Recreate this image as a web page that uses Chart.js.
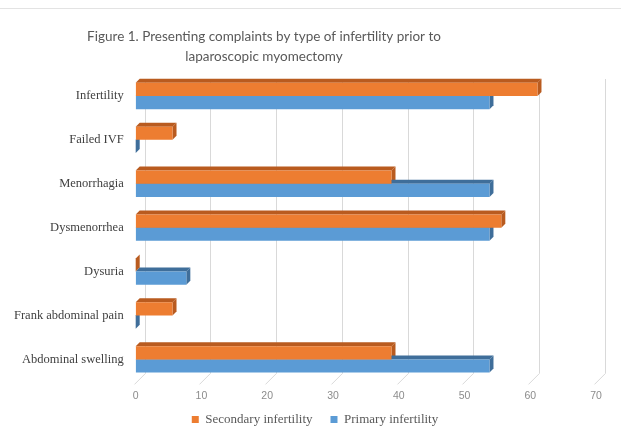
<!DOCTYPE html>
<html>
<head>
<meta charset="utf-8">
<script src="https://cdn.jsdelivr.net/npm/chart.js@4/dist/chart.umd.min.js"></script>
<style>
  body { margin: 0; background: #fff; }
  #wrap { position: relative; width: 621px; height: 427px; }
  #topline { position: absolute; left: 0; top: 8px; width: 621px; height: 1px; background: #e3e3e3; }
</style>
</head>
<body>
<div id="wrap">
  <div id="topline"></div>
  <canvas id="chart" width="621" height="427"></canvas>
</div>
<script>
// Categories from top to bottom
const categories = ['Infertility', 'Failed IVF', 'Menorrhagia', 'Dysmenorrhea', 'Dysuria', 'Frank abdominal pain', 'Abdominal swelling'];
// Percentages per type of infertility
const secondaryValues = [61.1, 5.6, 38.9, 55.6, 0, 5.6, 38.9];
const primaryValues = [53.8, 0, 53.8, 53.8, 7.7, 0, 53.8];
const xTicks = [0, 10, 20, 30, 40, 50, 60, 70];
const titleLines = ['Figure 1. Presenting complaints by type of infertility prior to', 'laparoscopic myomectomy'];

const DEPTH_X = 4, DEPTH_Y = 4, GRID_SHIFT = 9;

// Title sits left of centre in the original, so draw it by hand
const titlePlugin = {
    id: 'titlePlugin',
    afterDraw(chart) {
        const ctx = chart.ctx;
        ctx.save();
        ctx.font = '13.5px Lato';
        ctx.fillStyle = '#595959';
        ctx.textAlign = 'center';
        ctx.textBaseline = 'middle';
        titleLines.forEach((t, i) => ctx.fillText(t, 264, 37 + i * 20));
        ctx.restore();
    }
};

// legend needs wide gaps between items but little height, so nudge it after layout
const legendNudge = {
    id: 'legendNudge',
    afterLayout(chart) {
        const lg = chart.legend;
        if (lg) {
            lg.top -= 7;
            lg.bottom = chart.height;
            lg.left += 12;
            lg.right += 12;
        }
    }
};

// Fake the Excel 3D look: back-plane gridlines plus top/side faces of each bar
const bar3d = {
    id: 'bar3d',
    beforeDatasetsDraw(chart) {
        const ctx = chart.ctx;
        const area = chart.chartArea;
        const xs = chart.scales.x;
        ctx.save();
        ctx.strokeStyle = '#d9d9d9';
        ctx.lineWidth = 1;
        xTicks.forEach(v => {
            const px = Math.round(xs.getPixelForValue(v)) + 0.5;
            ctx.beginPath();
            ctx.moveTo(px + GRID_SHIFT, area.top + 5);
            ctx.lineTo(px + GRID_SHIFT, area.bottom - 8);
            ctx.lineTo(px - 2, area.bottom + 3);
            ctx.stroke();
        });
        chart.data.datasets.forEach((ds, i) => {
            const meta = chart.getDatasetMeta(i);
            meta.data.forEach(el => {
                const p = el.getProps(['x', 'y', 'base', 'height'], true);
                const top = p.y - p.height / 2, bottom = p.y + p.height / 2;
                ctx.fillStyle = ds.sideColor;
                // top face
                ctx.beginPath();
                ctx.moveTo(p.base, top);
                ctx.lineTo(p.base + DEPTH_X, top - DEPTH_Y);
                ctx.lineTo(p.x + DEPTH_X, top - DEPTH_Y);
                ctx.lineTo(p.x, top);
                ctx.closePath();
                ctx.fill();
                // right face
                ctx.beginPath();
                ctx.moveTo(p.x, top);
                ctx.lineTo(p.x + DEPTH_X, top - DEPTH_Y);
                ctx.lineTo(p.x + DEPTH_X, bottom - DEPTH_Y);
                ctx.lineTo(p.x, bottom);
                ctx.closePath();
                ctx.fill();
            });
        });
        ctx.restore();
    }
};

const ctx = document.getElementById('chart').getContext('2d');
new Chart(ctx, {
    type: 'bar',
    data: {
        labels: categories,
        datasets: [{
            label: 'Secondary infertility',
            data: secondaryValues,
            backgroundColor: '#ED7D31',
            sideColor: '#B95B1F',
            categoryPercentage: 0.6,
            barPercentage: 1
        }, {
            label: 'Primary infertility',
            data: primaryValues,
            backgroundColor: '#5B9BD5',
            sideColor: '#3F6E9A',
            categoryPercentage: 0.6,
            barPercentage: 1
        }]
    },
    options: {
        indexAxis: 'y',
        responsive: false,
        animation: false,
        devicePixelRatio: 1,
        layout: { padding: { left: 10, right: 25, top: 74, bottom: 0 } },
        plugins: {
            title: { display: false },
            legend: {
                position: 'bottom',
                maxHeight: 25,
                labels: {
                    boxWidth: 7,
                    boxHeight: 7,
                    padding: 18,
                    color: '#595959',
                    font: { family: 'Liberation Serif', size: 13 }
                }
            },
            tooltip: { enabled: false }
        },
        scales: {
            x: {
                min: 0,
                max: 70,
                ticks: { stepSize: 10, color: '#8c8c8c', font: { family: 'Liberation Sans', size: 10.5 }, padding: 0 },
                grid: { display: false },
                border: { display: false }
            },
            y: {
                ticks: { color: '#404040', font: { family: 'Liberation Serif', size: 12.5 }, padding: 4 },
                grid: { display: false },
                border: { display: false }
            }
        }
    },
    plugins: [bar3d, titlePlugin, legendNudge]
});
</script>
</body>
</html>
